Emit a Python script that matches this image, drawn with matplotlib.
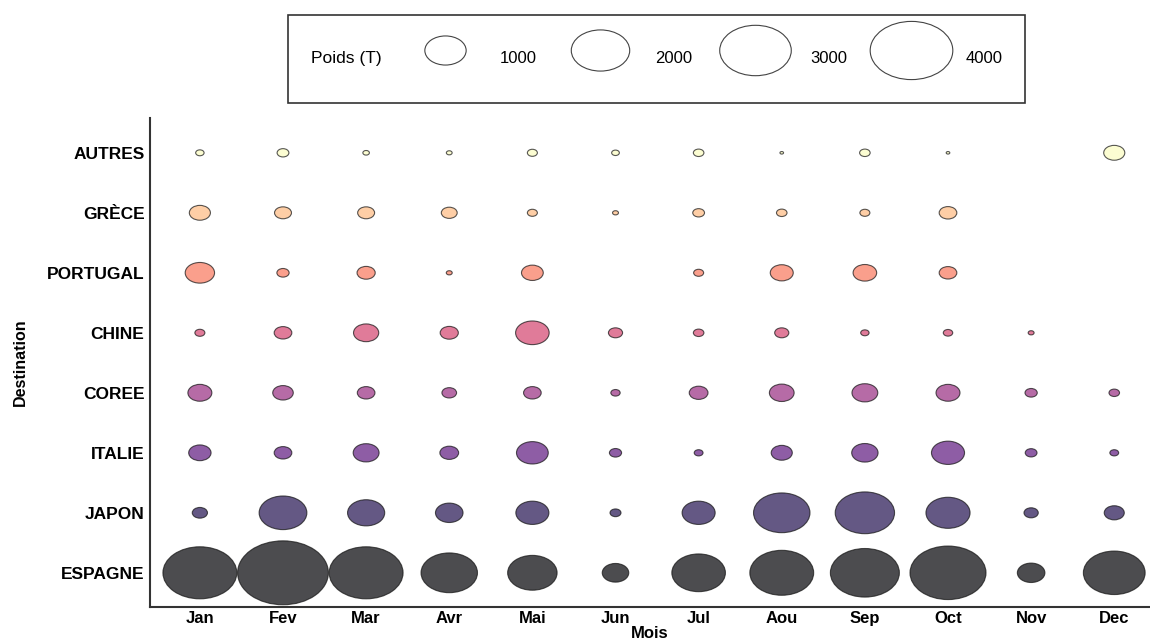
import numpy as np
import matplotlib.pyplot as plt
from matplotlib.path import Path
from matplotlib.transforms import Affine2D
from matplotlib.lines import Line2D

plt.rcParams['font.family'] = ['Liberation Sans', 'DejaVu Sans']

nan = np.nan
mois = ["Jan", "Fev", "Mar", "Avr", "Mai", "Jun", "Jul", "Aou", "Sep", "Oct", "Nov", "Dec"]
destinations = ["ESPAGNE", "JAPON", "ITALIE", "COREE", "CHINE", "PORTUGAL", "GRÈCE", "AUTRES"]

# poids (T) par mois
espagne = [2950, 4450, 2950, 1720, 1320, 380, 1550, 2200, 2570, 3120, 410, 2060]
japon = [125, 1230, 745, 410, 590, 65, 590, 1720, 1900, 1050, 110, 217]
italie = [270, 168, 362, 190, 545, 80, 42, 240, 375, 590, 75, 42]
coree = [310, 228, 168, 116, 168, 47, 190, 330, 360, 310, 81, 60]
chine = [54, 168, 343, 178, 608, 108, 60, 108, 38, 48, 19, nan]
portugal = [465, 81, 178, 19, 256, nan, 54, 285, 300, 168, nan, nan]
grece = [240, 155, 155, 136, 54, 19, 75, 60, 54, 168, nan, nan]
autres = [38, 75, 23, 18, 54, 32, 60, 7, 60, 7, nan, 240]
poids = [espagne, japon, italie, coree, chine, portugal, grece, autres]

legend_values = [1000, 2000, 3000, 4000]

# magma palette, 8 levels
colors = ["#000004", "#221150", "#5F187F", "#982D80", "#D3436E", "#F8765C", "#FEBA80", "#FCFDBF"]

# the source image is stretched horizontally, so use an ellipse marker
ellipse = Affine2D().scale(1.42, 1.0).transform_path(Path.unit_circle())

def size_of(v):
    return 0.96 * np.asarray(v, dtype=float)

fig = plt.figure(figsize=(11.5, 6.39), dpi=100)
ax = fig.add_axes([150 / 1150, 1 - 607 / 639, 1 - 150 / 1150, (607 - 118) / 639])

for row, (dest, vals) in enumerate(zip(destinations, poids)):
    vals = np.array(vals, dtype=float)
    keep = ~np.isnan(vals)
    xs = np.arange(len(mois))[keep]
    ax.scatter(xs, np.full(len(xs), row), s=size_of(vals[keep]), marker=ellipse,
               color=colors[row], edgecolor="#111111", linewidth=0.8, alpha=0.7, zorder=3)

ax.set_xlim(-0.6, 11.43)
ax.set_ylim(-0.57, 7.58)
ax.set_xticks(range(len(mois)))
ax.set_xticklabels(mois, fontsize=12, fontweight="bold")
ax.set_yticks(range(len(destinations)))
ax.set_yticklabels(destinations, fontsize=12.5, fontweight="bold")
ax.tick_params(length=0, pad=4)
ax.tick_params(axis="x", pad=3)
for side in ["top", "right"]:
    ax.spines[side].set_visible(False)
for side in ["left", "bottom"]:
    ax.spines[side].set_color("#333333")
    ax.spines[side].set_linewidth(1.5)
ax.set_xlabel("Mois", fontsize=12, fontweight="bold", labelpad=0)
ax.set_ylabel("Destination", fontsize=11.5, fontweight="bold", labelpad=14)

handles = [Line2D([], [], ls="", marker=ellipse, markersize=0.96 * np.sqrt(size_of(v)),
                  markerfacecolor="white", markeredgecolor="#444444", markeredgewidth=0.8)
           for v in legend_values]
leg = fig.legend(handles, [str(v) for v in legend_values], ncol=4, title="Poids (T)",
                 loc="center", bbox_to_anchor=(0.571, 0.908), fontsize=12,
                 title_fontsize=12.5, frameon=True, fancybox=False, edgecolor="black",
                 handlelength=4.8, handleheight=3.6, handletextpad=0.9,
                 columnspacing=1.4, borderpad=1.35, borderaxespad=0)
leg.get_frame().set_linewidth(1.2)
# put the title to the left of the entries
box = leg.get_children()[0]
title = box.get_children()[0]
hpack = box.get_children()[1]
box._children = [hpack]
hpack._children = [title] + hpack.get_children()

fig.savefig("out.png", dpi=100)
